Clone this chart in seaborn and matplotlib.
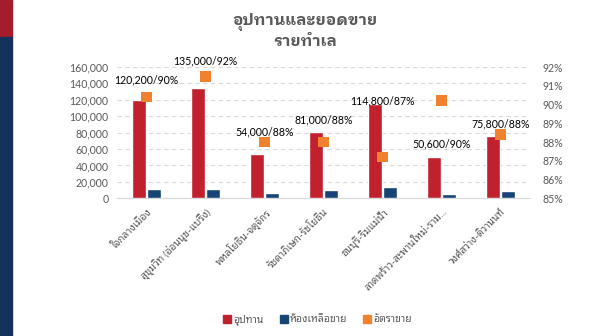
import matplotlib
matplotlib.use("Agg")
import matplotlib.pyplot as plt
from matplotlib.patches import Rectangle
from matplotlib.ticker import FuncFormatter
import numpy as np
import pandas as pd
import seaborn as sns

# Submarkets
zones = [
    "ใจกลางเมือง",
    "สุขุมวิท (อ่อนนุช-แบริ่ง)",
    "พหลโยธิน-จตุจักร",
    "รัชดาภิเษก-รัชโยธิน",
    "ธนบุรี-ริมแม่น้ำ",
    "ลาดพร้าว-สะพานใหม่-ราม...",
    "วงศ์สว่าง-ติวานนท์",
]
supply = [120200, 135000, 54000, 81000, 114800, 50600, 75800]          # อุปทาน (units)
unsold = [10800, 10800, 6700, 9600, 14000, 4800, 8800]                 # ห้องเหลือขาย (units)
sold_rate = [90.4, 91.5, 88.0, 88.0, 87.2, 90.2, 88.4]                  # อัตราขาย (%)

series_names = ["อุปทาน", "ห้องเหลือขาย", "อัตราขาย"]
left_ticks = list(range(0, 160001, 20000))
right_ticks = list(range(85, 93))

# how far each value label sits above its supply bar (pixels)
label_lift_px = [20, 27, 22, 12, 3, 13, 12]

RED = "#C0212D"
NAVY = "#164475"
ORANGE = "#F0812F"
GREY = "#595959"
GRID = "#D9D9D9"

sns.set_theme(style="white")
thai = ["Lato", "Noto Sans Thai Looped"]
plt.rcParams["font.family"] = thai

df = pd.DataFrame({
    "zone": zones * 2,
    "units": supply + unsold,
    "series": [series_names[0]] * len(zones) + [series_names[1]] * len(zones),
})

fig = plt.figure(figsize=(6.1, 3.36), dpi=100)
ax = fig.add_axes([117 / 610, 1 - 198.3 / 336, 413 / 610, 131.3 / 336])

sns.barplot(data=df, x="zone", y="units", hue="series",
            palette=[RED, NAVY], width=0.52, gap=0.1,
            saturation=1, legend=False, ax=ax, zorder=3)

ax.set_ylim(0, 160000)
ax.set_yticks(left_ticks)
ax.yaxis.set_major_formatter(FuncFormatter(lambda v, p: f"{int(v):,}"))
ax.set_xlim(-0.5, len(zones) - 0.5)
ax.set_xlabel("")
ax.set_ylabel("")
ax.grid(axis="y", color=GRID, linestyle=(0, (4, 3)), linewidth=0.8, zorder=0)
for s in ["top", "left", "right"]:
    ax.spines[s].set_visible(False)
ax.spines["bottom"].set_color(GRID)
ax.spines["bottom"].set_linewidth(0.9)
ax.tick_params(axis="y", length=0, labelsize=7.6, labelcolor=GREY, pad=6)
ax.tick_params(axis="x", length=0, labelsize=7.3, labelcolor=GREY, pad=6)
ax.set_xticks(range(len(zones)))
ax.set_xticklabels(zones, rotation=45, ha="right", rotation_mode="anchor")

# sales rate on the secondary axis
ax2 = ax.twinx()
sns.scatterplot(x=np.arange(len(zones)), y=sold_rate, marker="s", s=58,
                color=ORANGE, edgecolor="none", ax=ax2, zorder=4, legend=False)
ax2.set_ylim(85, 92)
ax2.set_yticks(right_ticks)
ax2.yaxis.set_major_formatter(FuncFormatter(lambda v, p: f"{int(round(v))}%"))
ax2.tick_params(axis="y", length=0, labelsize=7.6, labelcolor=GREY, pad=9)
for s in ["top", "left", "right", "bottom"]:
    ax2.spines[s].set_visible(False)
ax2.grid(False)

# value labels: supply / sales rate
for i, (v, r, lift) in enumerate(zip(supply, sold_rate, label_lift_px)):
    ax.annotate(f"{v:,}/{r:.0f}%", xy=(i, v), xytext=(0, lift * 72 / 100),
                textcoords="offset points", ha="center", va="center",
                fontsize=7.6, color="black", annotation_clip=False, zorder=6)

# title
title_font = ["IBM Plex Sans Thai Looped", "Noto Sans Thai Looped"]
fig.text(0.5, 1 - 22 / 336, "อุปทานและยอดขาย", ha="center", va="center",
         fontsize=11.5, fontweight="bold", color=GREY, family=title_font)
fig.text(0.5, 1 - 42 / 336, "รายทำเล", ha="center", va="center",
         fontsize=11.5, fontweight="bold", color=GREY, family=title_font)

# legend
handles = [plt.Line2D([], [], marker="s", linestyle="", color=c, markersize=5.5)
           for c in (RED, NAVY, ORANGE)]
leg = fig.legend(handles, series_names, loc="center", bbox_to_anchor=(0.52, 1 - 320 / 336),
                 ncol=3, frameon=False, fontsize=7.5, handletextpad=0.1,
                 columnspacing=1.5, handlelength=0.9)
for t in leg.get_texts():
    t.set_color(GREY)

# side band
fig.patches.append(Rectangle((0, 1 - 37 / 336), 12 / 610, 37 / 336,
                             transform=fig.transFigure, color="#A51D2D", zorder=0))
fig.patches.append(Rectangle((0, 0), 12 / 610, 1 - 37 / 336,
                             transform=fig.transFigure, color="#14325C", zorder=0))

fig.savefig("out.png", dpi=100)
